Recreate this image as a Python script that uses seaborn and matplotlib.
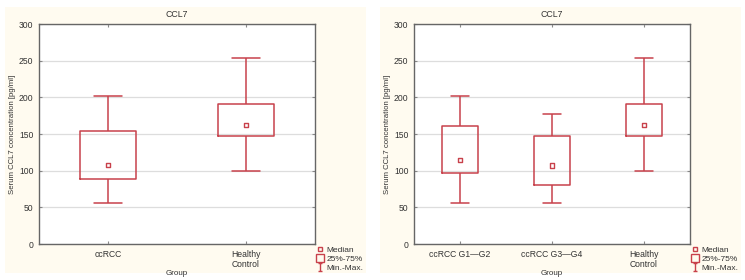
import numpy as np
import pandas as pd
import seaborn as sns
import matplotlib.pyplot as plt
from matplotlib.lines import Line2D
from matplotlib.patches import Rectangle
from matplotlib.path import Path

# | Data |-------------------------------------------------------------------------------------------------------------|
groups_left   = ["ccRCC", "Healthy\nControl"]
min_left      = [55.5, 100.0]
q1_left       = [89.0, 147.8]
median_left   = [108.0, 162.0]
q3_left       = [154.6, 190.5]
max_left      = [201.5, 254.0]

groups_right  = ["ccRCC G1\u2014G2", "ccRCC G3\u2014G4", "Healthy\nControl"]
min_right     = [55.5, 55.5, 100.0]
q1_right      = [96.7, 80.0, 147.8]
median_right  = [115.0, 107.0, 162.0]
q3_right      = [161.0, 147.8, 190.5]
max_right     = [201.5, 177.0, 254.0]

y_ticks       = [0, 50, 100, 150, 200, 250, 300]
# |--------------------------------------------------------------------------------------------------------------------|

RED   = "#c8414b"
BEIGE = "#fffbf0"
TXT   = "#333333"

sns.set_style("white")
plt.rcParams["font.family"] = ["Liberation Sans", "DejaVu Sans"]


def five_number_frame(groups, mins, q1s, meds, q3s, maxs):
    # 5 values per group -> percentiles 0/25/50/75/100 hit them exactly
    rows = []
    for g, a, b, c, d, e in zip(groups, mins, q1s, meds, q3s, maxs):
        for v in (a, b, c, d, e):
            rows.append({"Group": g, "value": v})
    return pd.DataFrame(rows)


I_MARK = Path([(-0.5, 1), (0.5, 1), (0, 1), (0, -1), (-0.5, -1), (0.5, -1)],
              [Path.MOVETO, Path.LINETO, Path.MOVETO, Path.LINETO, Path.MOVETO, Path.LINETO])


def draw_panel(ax, groups, mins, q1s, meds, q3s, maxs):
    df = five_number_frame(groups, mins, q1s, meds, q3s, maxs)
    sns.boxplot(data=df, x="Group", y="value", order=groups, ax=ax,
                whis=(0, 100), width=0.4, fill=False, color=RED, linewidth=1.1,
                medianprops={"visible": False}, showfliers=False, zorder=3)
    med_df = pd.DataFrame({"Group": groups, "value": meds})
    sns.scatterplot(data=med_df, x="Group", y="value", ax=ax, marker="s", s=9,
                    facecolor="none", edgecolor=RED, linewidth=1.0, zorder=4)

    ax.set_facecolor("white")
    ax.set_xlim(-0.5, len(groups) - 0.5)
    ax.set_ylim(0, 300)
    ax.set_yticks(y_ticks)
    ax.yaxis.grid(True, color="#dddddd", linewidth=0.9)
    ax.set_axisbelow(True)
    for s in ax.spines.values():
        s.set_color("#666666")
        s.set_linewidth(1.0)
        s.set_visible(True)
    ax.tick_params(axis="both", which="both", direction="in", length=2.5, width=0.8,
                   color="#888888", labelsize=6.2, labelcolor=TXT,
                   top=True, right=True, left=True, bottom=True, pad=4)
    ax.set_title("CCL7", fontsize=6.3, color=TXT, pad=5)
    ax.set_ylabel("Serum CCL7 concentration [pg/ml]", fontsize=5.6, color=TXT, labelpad=2)
    ax.set_xlabel("Group", fontsize=5.8, color=TXT, labelpad=1)

    handles = [
        Line2D([], [], ls="none", marker="s", ms=2.5, mfc="none", mec=RED, mew=1.0),
        Line2D([], [], ls="none", marker="s", ms=5.5, mfc="none", mec=RED, mew=1.0),
        Line2D([], [], ls="none", marker=I_MARK, ms=6, mfc="none", mec=RED, mew=1.0),
    ]
    ax.legend(handles, ["Median", "25%-75%", "Min.-Max."], loc="upper left",
              bbox_to_anchor=(1.0, 0.0), frameon=False, fontsize=6.0,
              handlelength=0.7, handletextpad=0.35, labelspacing=0.12,
              borderpad=0.0, borderaxespad=0.3, labelcolor=TXT)


fig = plt.figure(figsize=(7.45, 2.8), dpi=100, facecolor="white")
W, H = 745.0, 280.0
for x0 in (5, 380):
    fig.patches.append(Rectangle((x0 / W, 7 / H), 361 / W, 266 / H, transform=fig.transFigure,
                                 facecolor=BEIGE, edgecolor="none", zorder=-10))

ax_l = fig.add_axes([39 / W, 1 - 244 / H, 276 / W, 220 / H])
ax_r = fig.add_axes([414 / W, 1 - 244 / H, 276 / W, 220 / H])

draw_panel(ax_l, groups_left, min_left, q1_left, median_left, q3_left, max_left)
draw_panel(ax_r, groups_right, min_right, q1_right, median_right, q3_right, max_right)

fig.savefig("out.png", dpi=100, facecolor="white")
